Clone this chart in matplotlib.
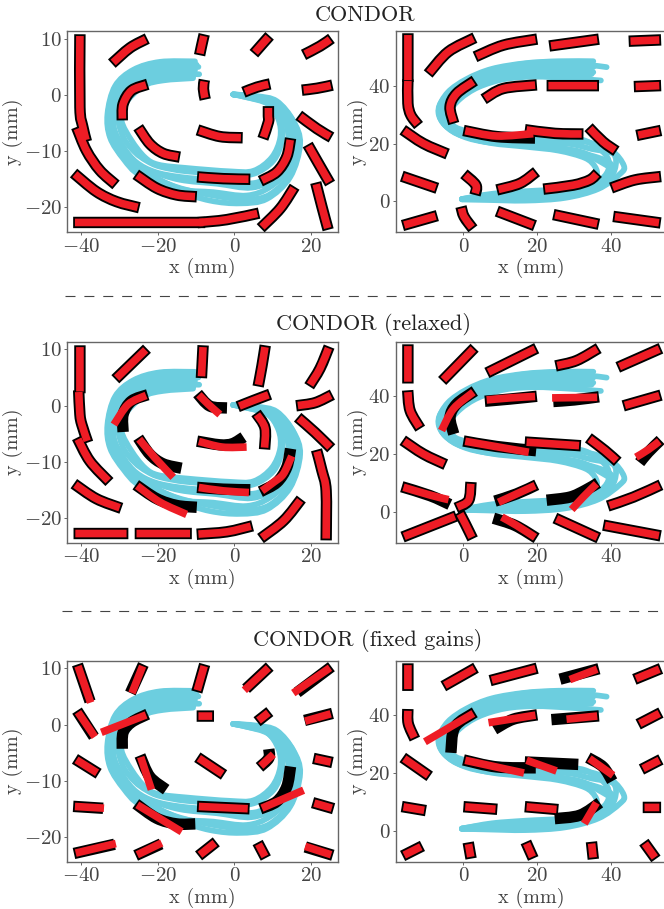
import matplotlib
matplotlib.use("Agg")
import numpy as np
import matplotlib.pyplot as plt
from matplotlib.patches import PathPatch
from matplotlib.path import Path

plt.rcParams["font.family"] = ["cmr10", "DejaVu Sans"]
plt.rcParams["mathtext.fontset"] = "cm"
plt.rcParams["axes.unicode_minus"] = False
plt.rcParams["axes.formatter.use_mathtext"] = True

W, H = 664, 909

# ========= demonstrations (mm) =========
c_demos = [
    [(-10.3, 6), (-19.5, 5.9), (-26.4, 4.5), (-31.2, 1.6), (-33.2, -3.4), (-32.5, -7.6), (-29, -11.4), (-24.7, -14.3),
     (-15.1, -17), (-6.4, -18.8), (1.5, -19.3), (8.5, -18.5), (14.6, -14.6), (17.2, -8.7), (15.4, -4.6), (11.1, -1.1),
     (5.9, -0.2), (-0.3, 0.1)],
    [(-9.4, 5), (-17.7, 4.7), (-23.8, 4), (-28.2, 2.2), (-31.7, -1.1), (-32.5, -4.6), (-31.2, -8.1), (-27.7, -11.4),
     (-23.8, -13.5), (-14.2, -16.7), (-5.5, -17.3), (3.2, -17.9), (9.3, -16.4), (14.6, -12.9), (16.3, -8.7), (15, -4.6),
     (11.1, -1.7), (5.8, -0.5), (-0.3, 0.1)],
    [(-9.2, 3.7), (-17.7, 3.7), (-23.8, 2.8), (-27.7, 0.7), (-30.8, -2.2), (-31.5, -5.8), (-29, -9.3), (-25.6, -12),
     (-20.8, -13.7), (-14.2, -14.6), (-4.6, -15.2), (5, -15.7), (10.6, -13.75), (13.5, -10.2), (14.1, -7.3),
     (12.7, -3.7), (8.5, -1.1), (3.2, -0.2), (-0.3, 0.1)],
    [(-10.3, 4.4), (-18.6, 4.25), (-24.7, 3.4), (-29, 0.7), (-32.1, -2.8), (-31.8, -6.4), (-29.9, -9.3), (-26.4, -12),
     (-22.1, -13.5), (-14.2, -15.1), (-4.6, -15.8), (4.5, -16.5), (11.1, -14.6), (15, -10.5), (15.4, -7), (13.3, -3.7),
     (9.3, -1.4), (4.1, -0.2), (-0.3, 0.1)],
    [(-10.8, 3), (-18.6, 2.6), (-23.8, 1.6), (-28.6, -1.6), (-29.5, -4.6), (-26.9, -8.1), (-23.4, -11.1), (-19.9, -12.4),
     (-12.5, -13), (-1.1, -13.6), (5, -13.5), (9.8, -11.1), (12, -7.6), (11.5, -4.3), (8.5, -1.4), (3.2, -0.4),
     (-0.3, 0.1)],
    [(-10.7, 3.4), (-18.6, 3.2), (-24.3, 2.2), (-29, -0.5), (-30.4, -4), (-29, -7.6), (-26, -10.2), (-23, -11.7),
     (-19.5, -12.75), (-12.5, -13.6), (-1.1, -14.05), (5, -14.05), (10.2, -11.7), (12.4, -8.1), (12, -4.6),
     (8.9, -1.65), (3.2, -0.4), (-0.3, 0.1)],
    [(-9.9, 5.4), (-17.7, 5.3), (-24.3, 4.5), (-29.5, 2.2), (-32.5, -1.4), (-33, -5.2), (-31.7, -8.4), (-28.2, -11.7),
     (-24.3, -13.75), (-15.1, -16.4), (-5.5, -17.9), (3.2, -18.6), (9.3, -17.7), (15, -13.75), (16.8, -8.7),
     (15.3, -4.6), (11.1, -1.4), (5.8, -0.4), (-0.3, 0.1)],
]
s_demos = [
    [(38.75, 46.4), (32.9, 47.3), (23.9, 48.1), (14.9, 47.3), (6.8, 44.6), (-0.4, 40.6), (-5.4, 35.4), (-6.75, 30.8),
     (-4.9, 26.2), (-0.4, 22.7), (6.8, 21.6), (16.7, 21), (27.5, 21), (33.8, 20.4), (40.1, 17.55), (43.4, 12.4),
     (42.4, 9.5), (36.5, 4.3), (27.5, 1.2), (16.7, 0.25), (5.9, 0.5), (-0.4, 0.7)],
    [(35.15, 48.45), (25.7, 48.45), (16.7, 47.75), (7.7, 45.8), (0.9, 42.3), (-4.2, 37.7), (-6.6, 32), (-5.4, 27),
     (-0.9, 23.3), (5.4, 20.8), (16.7, 19.6), (25.7, 18.5), (32, 17), (36.5, 14.1), (39.65, 11.2), (37.85, 7.75),
     (32.9, 4.3), (25.7, 2.3), (16.7, 1.4), (5.9, 1.2), (-0.4, 0.8)],
    [(37.2, 41.8), (28.4, 42.6), (19.4, 43.1), (11.3, 42.3), (4.1, 39.5), (-0.9, 35.4), (-3.6, 30.8), (-2.7, 26.2),
     (1.4, 24.2), (7.7, 23.3), (16.7, 21.9), (25.7, 21.9), (32.9, 21), (38.3, 16.4), (39.4, 11.8), (37.4, 7.75),
     (32.9, 5.1), (25.7, 3.5), (16.7, 3.1), (7.7, 2.3), (-0.4, 0.8)],
    [(35.15, 44.65), (27.5, 45.2), (18.5, 45.45), (10.4, 44.3), (3.2, 41.2), (-2.2, 36.6), (-4.9, 31.4), (-4, 26.2),
     (0.45, 23.3), (6.8, 21.9), (18.5, 20.4), (28.4, 19.9), (34.7, 18.1), (40.55, 16.4), (41, 11.2), (38.3, 6.6),
     (32, 3.1), (23, 1.6), (13.1, 0.8), (-0.4, 0.7)],
    [(35.15, 46.4), (25.7, 46.6), (16.7, 46.1), (8.6, 44.6), (1.4, 40.6), (-3.6, 36), (-6, 30.8), (-4.8, 26.2),
     (0, 22.4), (6.8, 20.4), (18.5, 19.3), (27.5, 18.1), (34.7, 15.8), (39.4, 13.5), (40.55, 10.1), (36.5, 5.4),
     (29.3, 2.6), (19.4, 2), (9.5, 1.6), (-0.4, 0.7)],
    [(34.7, 44), (27.5, 43.7), (18.5, 44), (11.3, 43.5), (4.1, 40.6), (-1.3, 36), (-4.2, 30.8), (-3.1, 25.6),
     (1.4, 22.2), (7.7, 20.1), (16.7, 18.9), (25.7, 17.55), (32.9, 15), (35.6, 12), (36, 8.9), (33.35, 6),
     (27.5, 4.3), (16.7, 3.5), (7.7, 2.6), (-0.4, 0.8)],
]

# ========= CONDOR, red follows black =========
c1_black = [
    [(-40.4, 10.5), (-40.4, -2.2), (-39.7, -5.5), (-38.8, -8)],
    [(-41.1, -6), (-38.7, -9.9), (-35.2, -13.4), (-31.3, -15.8)],
    [(-41.7, -14.1), (-36.1, -17.2), (-30.8, -19), (-25.3, -20)],
    [(-41.7, -22.7), (-8.1, -22.7)],
    [(-9.2, -22.7), (-2, -22.2), (6, -21.1)],
    [(7.2, -23.5), (12, -20.2), (15.5, -16.6)],
    [(24.4, -23.7), (22.9, -19.9), (21.4, -15.9)],
    [(24.8, -15.5), (22, -12.2), (19.4, -9.1)],
    [(25, -7.4), (21.6, -6), (17.2, -3.8)],
    [(25.2, 1.7), (21.6, 1.2), (18.1, 0.9)],
    [(25, 9.9), (22.4, 8.7), (18.5, 7.3)],
    [(8.9, 10.3), (7.2, 9), (5.4, 7.6)],
    [(-8, 10.5), (-8.6, 8.7), (-9, 7.4)],
    [(-23.2, 9.9), (-27.3, 8.4), (-31.7, 5.8)],
    [(-23.1, 1.8), (-26.9, 0.8), (-29.1, -1.6), (-29.3, -4.2)],
    [(-7.9, 2.4), (-8.1, 1.1), (-7.7, -0.5)],
    [(8.9, 1.9), (5.9, 1.4), (2.8, 0.6)],
    [(8.9, -2.3), (8.9, -3.7), (8.9, -4.8), (7.6, -7.5)],
    [(-9.2, -6.3), (-3.8, -7.4), (1.7, -7.6)],
    [(-24.9, -6), (-22.1, -8.7), (-18.6, -10.4), (-14.7, -11)],
    [(14.6, -8), (13.7, -11), (11.1, -13.7), (7.2, -15.2)],
    [(-9.3, -14.6), (-2.9, -14.9), (3.7, -15)],
    [(-25.4, -14.3), (-20.3, -16.6), (-15.1, -17.8), (-10.3, -18.1)],
]
s1_black = [
    [(-15, 57.5), (-15, 41.9)],
    [(-15, 41.6), (-15, 33.9), (-14.2, 29.8), (-12.4, 26.7)],
    [(-16, 24.4), (-10.8, 20), (-4.7, 16.6)],
    [(-16.2, 8.5), (-7.5, 4.7)],
    [(-16, -8.2), (-7.5, -5.1)],
    [(2.3, -9), (0.2, -5.3), (-0.5, -2.4)],
    [(18.9, -8.2), (9.5, -3.6)],
    [(36.2, -7.8), (24.8, -4.7)],
    [(52.9, -7.4), (41, -5.3)],
    [(0.5, 9.1), (3.4, 5.6), (3.2, 2.8)],
    [(9.5, 4.1), (15.3, 6.2), (19.4, 9.9)],
    [(22.1, 4.3), (29.7, 5.6), (34.2, 7.4), (36, 9.4)],
    [(40.4, 4.8), (46.4, 7.4), (53, 8.5)],
    [(47.3, 22.9), (53, 24.4)],
    [(41, 17.7), (37.8, 20.6), (34.2, 25.2)],
    [(17.1, 24.7), (24.8, 23.5), (32, 23.3)],
    [(0.5, 24.4), (9, 22.4), (18.9, 21.9)],
    [(-2.7, 27.5), (-3.6, 32.7), (-1.8, 37.3), (2.7, 41.4)],
    [(5.9, 35.6), (10.8, 39), (19.4, 40.2)],
    [(23, 40), (36.2, 40)],
    [(46.6, 39.7), (53, 40)],
    [(2.7, 56.3), (-4.1, 51.7), (-9.2, 44.5)],
    [(3.6, 50.2), (10.8, 54), (19.5, 56)],
    [(23.7, 53.8), (36.2, 56)],
    [(45.2, 55.4), (53, 55.8)],
]
s1_red = {16: [(0.5, 24.4), (9, 22.6), (18.9, 23.4)]}

# ========= CONDOR (relaxed) =========
c2_black = [
    [(-40.4, 10.4), (-40.4, 2.5)],
    [(-40.7, 2.4), (-40.4, -1.6), (-39.9, -3.4), (-38.5, -6.3)],
    [(-40.9, -6), (-37.8, -9.9), (-33, -13.4)],
    [(-41.6, -14.1), (-36.1, -16.6), (-30, -18.2)],
    [(-41.6, -22.8), (-28.2, -22.8)],
    [(-25.6, -22.8), (-11.6, -22.8)],
    [(-9.4, -22.9), (-2, -22.5), (4.3, -21.5)],
    [(7.2, -23.5), (12.9, -20.5), (17.2, -16.9)],
    [(24, -23.7), (24, -15.2), (22.9, -11.6), (21.6, -8.2)],
    [(25, -7.4), (21.1, -4.8), (16.9, -2.3)],
    [(25.2, 1.8), (21.1, 0.5), (16.6, 0)],
    [(24.6, 10.2), (22.4, 6.6), (19.8, 3.7)],
    [(8, 10.4), (7.2, 7), (6.3, 3.7)],
    [(-8.2, 10.4), (-8.6, 5.2)],
    [(-23.2, 9.9), (-30.8, 4.9)],
    [(-23.1, 1.8), (-26.9, 0.8), (-29.1, -1.6), (-29.1, -4.4)],
    [(-9.3, 1.9), (-6.4, -0.1), (-2.4, -0.4)],
    [(8.9, 1.9), (5, 0.9), (1.3, -0.1)],
    [(5.9, -1.6), (8, -4), (7.9, -7.5)],
    [(-9.3, -6.4), (-3.8, -7), (-0.5, -6.8), (2, -5.8)],
    [(-24.9, -6), (-22.1, -8.7), (-18.6, -10.4), (-14.3, -11.1)],
    [(14.6, -8), (13.7, -11), (11.1, -13.7), (7.2, -15.2)],
    [(-9.3, -14.6), (-2.9, -14.9), (3.7, -15)],
    [(-25.4, -14.3), (-20.3, -16.6), (-15.1, -17.8), (-10.3, -18.1)],
]
c2_red = {
    15: [(-23.1, 1.8), (-27.8, 0.2), (-31.5, -3.4)],
    16: [(-9.3, 1.9), (-6.8, 0.2), (-3.8, -1.6)],
    19: [(-9.3, -6.4), (-3.2, -7.4), (3.2, -7.4)],
    20: [(-24.9, -6), (-20.8, -9.3), (-16, -12.8)],
    21: [(15, -9), (12.8, -12.2), (10.2, -13.7), (7.2, -15.2)],
    22: [(-9.3, -14.6), (-2.9, -15.2), (3.8, -15.5)],
    23: [(-25.4, -14.3), (-19.5, -17.2), (-12.5, -19.4)],
}
s2_black = [
    [(-15, 57.3), (-15, 45)],
    [(-15, 41.4), (-14.4, 35), (-11.9, 29.3)],
    [(-16, 24.4), (-10.8, 20), (-5.2, 16.6)],
    [(-16.2, 8.5), (-9, 5.6), (-4.1, 2.8)],
    [(-16, -8.5), (-2.3, -1.6)],
    [(2.3, -8.8), (0.5, -4.1), (-0.9, -0.7)],
    [(-1.6, 1.6), (1.4, 3.9), (2, 9.7)],
    [(19.4, -8.8), (14, -4.7), (8.6, -2.4)],
    [(36.2, -8.8), (25.2, -2.4)],
    [(52.9, -8.2), (38.3, -4.7)],
    [(9, 3.9), (14.4, 6.2), (19.4, 9.1)],
    [(23, 4.1), (28.8, 5.1), (32.9, 7.4), (36, 9.7)],
    [(39.5, 2.2), (46, 5.1), (53, 9.1)],
    [(48, 17.5), (50, 20.6), (53, 24.4)],
    [(41.4, 17.7), (38.3, 21.2), (34.2, 25.2)],
    [(17.1, 24.1), (31.3, 22.9)],
    [(0.5, 24.4), (9, 22.6), (19.2, 21.2)],
    [(-2.7, 27.5), (-3.6, 32.7), (-1.8, 37.3), (2.7, 41.4)],
    [(6.3, 38.3), (12.6, 39), (19.4, 39.9)],
    [(36.2, 39.7), (30, 38.7), (24.8, 38.2)],
    [(53, 40.2), (43.7, 36.8)],
    [(2.7, 56.3), (-5.4, 45.7)],
    [(19.4, 56.3), (6.8, 48.3)],
    [(36.2, 56.3), (30.6, 52.3), (25.4, 50.6)],
    [(53, 56.3), (42.2, 50.2)],
]
s2_red = {
    3: [(-16.2, 8.5), (-9, 5.8), (-4, 4.2)],
    7: [(19.4, -8.8), (14.4, -4.7), (10.4, -1.8)],
    10: [(9.5, 3.3), (14.4, 6.2), (19.4, 9.1)],
    11: [(29.3, 0.8), (32.4, 5.1), (36, 9.7)],
    13: [(46.7, 18.9), (50, 21.5), (53, 24.4)],
    16: [(0.5, 24.4), (17.7, 20.6)],
    17: [(-5.9, 28.1), (-2.7, 35.6), (2.7, 41.4)],
    18: [(6.3, 38.7), (12.6, 39.4), (19.4, 39.9)],
    19: [(36.2, 39.6), (24, 39.4)],
}

# ========= CONDOR (fixed gains) =========
c3_black = [
    [(-40.9, 10.4), (-37.9, 4.4)],
    [(-24, 10.4), (-27, 5.9)],
    [(-7.9, 10.4), (-9.7, 6.1)],
    [(8.9, 10.1), (3.4, 6.6)],
    [(25, 10.1), (16.8, 5.9)],
    [(-40.9, 2.2), (-37, -1.9)],
    [(-23.1, 1.7), (-26.9, 0.4), (-29.1, -1.4), (-29.3, -4)],
    [(-9.4, 1.5), (-5.8, 1.5)],
    [(8.9, 2.1), (6.3, 0.7)],
    [(25.2, 1.9), (18.8, 0.8)],
    [(-41.3, -6.3), (-35.9, -8.6)],
    [(-24.5, -5.8), (-22.1, -9.3), (-18.2, -11.4)],
    [(-9.3, -6), (-3.1, -8.8)],
    [(6.9, -7.4), (9, -6), (9, -4.7)],
    [(25.2, -6.7), (21.1, -6.1)],
    [(-41.7, -14.6), (-34.8, -14.9)],
    [(-25.4, -14.3), (-20.3, -16.7), (-15.1, -17.7), (-10.7, -17.7)],
    [(-9.3, -14.6), (3.5, -15)],
    [(14.6, -7.8), (13.7, -11.1), (11.1, -13.7), (7.2, -14.9)],
    [(25.5, -14.9), (20.9, -14)],
    [(-41.5, -22.9), (-31.8, -21.4)],
    [(-25.4, -23.2), (-19.6, -21.4)],
    [(-9, -23.2), (-5.1, -21.1)],
    [(8, -23.5), (6.3, -21.3)],
    [(25.3, -23.2), (19, -21.9)],
]
c3_red = {
    0: [(-40.9, 10.4), (-37.6, 3.9)],
    1: [(-24, 10.4), (-26.8, 5.6)],
    3: [(8.9, 10.1), (2.6, 6.1)],
    4: [(25, 10.1), (15.4, 5.6)],
    5: [(-40.9, 2.2), (-36.5, -2.2)],
    6: [(-23.1, 1.7), (-34.8, -1.4)],
    9: [(25.2, 1.9), (18.5, 0.6)],
    11: [(-24.5, -5.8), (-21.7, -11.6)],
    13: [(6.9, -7.4), (10.2, -5.3)],
    15: [(-41.7, -14.6), (-34.1, -14.9)],
    16: [(-25.4, -14.3), (-13.8, -19.1)],
    18: [(7.2, -14.9), (18.1, -11.7)],
    20: [(-41.5, -22.9), (-31, -21.2)],
    21: [(-25.4, -23.2), (-19, -21.1)],
    24: [(25.3, -23.2), (18.5, -21.7)],
}
s3_black = [
    [(-15, 57.3), (-15, 49)],
    [(-15, 41.5), (-14.9, 37.1), (-13.3, 32.3)],
    [(-16, 25), (-9.5, 19.2)],
    [(-16.2, 8.3), (-10.6, 7.1)],
    [(-16, -8.4), (-11.5, -5.5)],
    [(2, -9), (1.4, -4.6)],
    [(18.7, -9), (17.1, -4.4)],
    [(35.1, -9.2), (34.7, -4.4)],
    [(51.8, -9.2), (49.1, -4.4)],
    [(0.5, 8.3), (8.7, 7.5)],
    [(17.1, 8.3), (25.2, 7.4)],
    [(25.2, 4.3), (31.5, 5.4), (36.5, 9.4)],
    [(49, 8.1), (53, 8.1)],
    [(53, 24.4), (48.6, 21.5)],
    [(34.1, 25), (37.8, 22.1), (40, 17.7)],
    [(17.1, 23.8), (30.6, 23)],
    [(0.5, 24.4), (9, 22.1), (19.1, 21.8)],
    [(2.7, 40.6), (-2.3, 35.9), (-3.3, 27.6)],
    [(19.5, 40), (13.5, 38.6), (8.8, 35.4)],
    [(36.2, 39.7), (24.3, 38.5)],
    [(53, 40.6), (47.7, 37.1)],
    [(3, 56.1), (-5, 50.3)],
    [(19.5, 56.1), (7.7, 52.1)],
    [(36.2, 55.9), (26.6, 52.6)],
    [(53, 55.9), (46.7, 52.6)],
]
s3_red = {
    11: [(36, 9.7), (32.7, 2.5)],
    14: [(34.1, 25), (40.5, 19.2)],
    15: [(17.1, 24.4), (25.2, 20.7)],
    16: [(0.5, 24.4), (16.4, 20)],
    17: [(2.7, 40.6), (-10.4, 30.8)],
    18: [(19.5, 40), (6.8, 37.4)],
    19: [(36.2, 39.7), (27.9, 38.6)],
    23: [(36.2, 55.9), (28.8, 52.3)],
}

titles = ["CONDOR", "CONDOR (relaxed)", "CONDOR (fixed gains)"]
title_x = [365, 374, 368]
title_y = [15, 324, 640]
rule_y = [296, 611]
rule_x0 = [65, 62]

c_xlim, c_ylim = (-43.7, 27.1), (-24.4, 11.4)
s_xlim, s_ylim = (-18.3, 55), (-10.6, 58.9)
c_xticks, c_yticks = [-40, -20, 0, 20], [-20, -10, 0, 10]
s_xticks, s_yticks = [0, 20, 40], [0, 20, 40]

row_tops = [31, 341.5, 660.5]
row_bottoms = [232, 542.5, 861.5]

BLUE = "#6ccedf"
RED = "#ee1c25"
GREY = "#444444"


def stretch(ax, pts, px=1.8):
    # 黑色比红色每端长一点，才有端部的黑边
    p = ax.transData.transform(np.array(pts, dtype=float))
    a = p[0] - p[1]
    b = p[-1] - p[-2]
    p[0] += a / np.hypot(*a) * px
    p[-1] += b / np.hypot(*b) * px
    return ax.transData.inverted().transform(p)


def curve(ax, pts, color, lw, cap, z):
    # 曲线穿过读到的每个点 (Catmull-Rom -> Bezier)
    p = np.array(pts, dtype=float)
    verts = [p[0]]
    codes = [Path.MOVETO]
    for i in range(len(p) - 1):
        before = p[max(i - 1, 0)]
        after = p[min(i + 2, len(p) - 1)]
        verts += [p[i] + (p[i + 1] - before) / 6, p[i + 1] - (after - p[i]) / 6, p[i + 1]]
        codes += [Path.CURVE4] * 3
    ax.add_patch(PathPatch(Path(verts, codes), fill=False, edgecolor=color, lw=lw,
                           capstyle=cap, joinstyle="round", zorder=z))


def draw_panel(ax, demos, black, red, xlim, ylim, xticks, yticks, ylabel_x):
    ax.set_xlim(xlim)
    ax.set_ylim(ylim)
    for d in demos:
        curve(ax, d, BLUE, 4.1, "round", 2)
    for path in black:
        curve(ax, stretch(ax, path), "black", 8.2, "butt", 3)
    for i, path in enumerate(black):
        curve(ax, red.get(i, path), RED, 5.5, "butt", 4)
    ax.set_xticks(xticks)
    ax.set_xticklabels([f"${v}$" for v in xticks])
    ax.set_yticks(yticks)
    ax.set_yticklabels([f"${v}$" for v in yticks])
    ax.tick_params(length=2.5, width=0.7, color="#666666", labelsize=15, labelcolor=GREY, pad=1.5)
    ax.set_xlabel("x (mm)", fontsize=14.5, color=GREY, va="center")
    ax.set_ylabel("y (mm)", fontsize=14.5, color=GREY, va="center")
    ax.xaxis.set_label_coords(0.5, -0.18)
    ax.yaxis.set_label_coords(ylabel_x, 0.5)
    for s in ax.spines.values():
        s.set_color("#666666")
        s.set_linewidth(1.0)


fig = plt.figure(figsize=(W / 100, H / 100), dpi=100)

panels = [
    (c_demos, c1_black, {}, s_demos, s1_black, s1_red),
    (c_demos, c2_black, c2_red, s_demos, s2_black, s2_red),
    (c_demos, c3_black, c3_red, s_demos, s3_black, s3_red),
]
for row, (cd, cb, cr, sd, sb, sr) in enumerate(panels):
    top, bottom = row_tops[row], row_bottoms[row]
    ax1 = fig.add_axes([67.3 / W, 1 - bottom / H, 270.7 / W, (bottom - top) / H])
    draw_panel(ax1, cd, cb, cr, c_xlim, c_ylim, c_xticks, c_yticks, -0.2)
    ax2 = fig.add_axes([395.7 / W, 1 - bottom / H, 271 / W, (bottom - top) / H])
    draw_panel(ax2, sd, sb, sr, s_xlim, s_ylim, s_xticks, s_yticks, -0.14)
    fig.text(title_x[row] / W, 1 - title_y[row] / H, titles[row], fontsize=16, color="#222222",
             ha="center", va="center")

for y, x0 in zip(rule_y, rule_x0):
    fig.add_artist(plt.Line2D([x0 / W, 1], [1 - y / H, 1 - y / H], color="#444444", lw=0.8,
                              dashes=(9, 8), transform=fig.transFigure))

fig.savefig("out.png", dpi=100)
